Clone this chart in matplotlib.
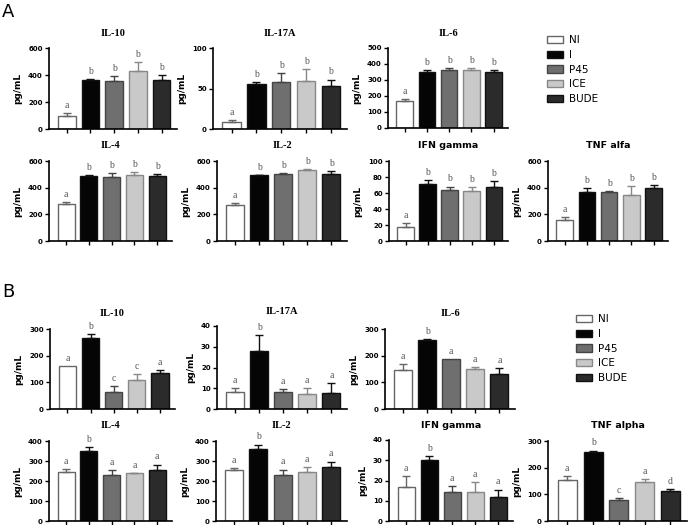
import matplotlib
matplotlib.use('Agg')
import matplotlib.pyplot as plt
from matplotlib.patches import Patch
import numpy as np

W, H = 689, 525

groups = ['NI', 'I', 'P45', 'ICE', 'BUDE']
colors = ['#ffffff', '#050505', '#6f6f6f', '#c9c9c9', '#2b2b2b']
edges = ['#666666', '#111111', '#444444', '#888888', '#111111']

# panel A
a_titles = ['IL-10', 'IL-17A', 'IL-6', 'IL-4', 'IL-2', 'IFN gamma', 'TNF alfa']
a_means = [[95, 362, 358, 430, 365],
           [9, 56, 58, 59, 53],
           [170, 352, 362, 362, 350],
           [280, 485, 480, 495, 485],
           [270, 492, 505, 530, 505],
           [17, 71, 64, 62, 67],
           [160, 365, 370, 345, 395]]
a_errs = [[20, 10, 35, 65, 32],
          [2, 2, 11, 15, 8],
          [12, 10, 10, 10, 12],
          [10, 10, 30, 20, 15],
          [12, 5, 5, 12, 20],
          [5, 5, 4, 5, 8],
          [20, 30, 5, 68, 25]]
a_letters = [['a', 'b', 'b', 'b', 'b']] * 7
a_ymax = [600, 100, 500, 600, 600, 100, 600]
a_ystep = [200, 50, 100, 200, 200, 20, 200]

# panel B
b_titles = ['IL-10', 'IL-17A', 'IL-6', 'IL-4', 'IL-2', 'IFN gamma', 'TNF alpha']
b_means = [[160, 268, 63, 110, 135],
           [8, 28, 8.3, 7, 7.8],
           [145, 258, 187, 150, 130],
           [245, 348, 228, 238, 257],
           [255, 362, 232, 245, 272],
           [17, 30, 14.2, 14.5, 11.7],
           [152, 260, 78, 148, 112]]
b_errs = [[0, 12, 22, 20, 12],
          [2, 7.5, 1.2, 3, 4.5],
          [22, 5, 0, 8, 22],
          [15, 22, 25, 3, 25],
          [8, 20, 25, 25, 25],
          [5, 2, 3, 4.8, 3.8],
          [15, 4, 8, 10, 7]]
b_letters = [['a', 'b', 'c', 'c', 'a'],
             ['a', 'b', 'a', 'a', 'a'],
             ['a', 'b', 'a', 'a', 'a'],
             ['a', 'b', 'a', 'a', 'a'],
             ['a', 'b', 'a', 'a', 'a'],
             ['a', 'b', 'a', 'a', 'a'],
             ['a', 'b', 'c', 'a', 'd']]
b_ymax = [300, 40, 300, 400, 400, 40, 300]
b_ystep = [100, 10, 100, 100, 100, 10, 100]

# axes boxes in pixels: x0, y_top, x1, y_bottom
a_boxes = [(49, 48, 177, 129), (213, 48, 347, 129), (388, 48, 508, 128),
           (49, 161, 172, 241), (217, 161, 347, 241), (389, 161, 508, 241),
           (548, 161, 668, 241)]
b_boxes = [(50, 329, 175, 409), (217, 326, 347, 409), (385, 329, 515, 409),
           (49, 441, 172, 521), (216, 441, 347, 521), (389, 440, 513, 521),
           (548, 441, 687, 521)]

fig = plt.figure(figsize=(W / 100, H / 100), dpi=100)


def draw_panel(box, title, means, errs, letters, ymax, ystep):
    x0, yt, x1, yb = box
    ax = fig.add_axes([x0 / W, 1 - yb / H, (x1 - x0) / W, (yb - yt) / H])
    x = np.arange(len(groups))
    ax.bar(x, means, width=0.74, color=colors, edgecolor=edges, linewidth=1.0, zorder=2)
    for i in range(len(groups)):
        if errs[i] > 0:
            ax.errorbar(x[i], means[i], yerr=[[0], [errs[i]]], fmt='none',
                        ecolor=edges[i], elinewidth=1.0, capsize=3, capthick=1.0, zorder=3)
        ax.text(x[i], means[i] + errs[i] + ymax * 0.04, letters[i], ha='center', va='bottom',
                fontsize=7, color='#555555', family='Liberation Serif')
    ax.set_xlim(-0.75, 4.65)
    ax.set_ylim(0, ymax)
    ax.set_yticks(np.arange(0, ymax + 1, ystep))
    ax.set_xticks(x)
    ax.set_xticklabels([])
    for s in ['top', 'right']:
        ax.spines[s].set_visible(False)
    for s in ['left', 'bottom']:
        ax.spines[s].set_linewidth(1.2)
    ax.tick_params(axis='both', direction='out', length=3, width=1.0, labelsize=5, pad=1.5)
    for lab in ax.get_yticklabels():
        lab.set_fontweight('bold')
    ax.set_ylabel('pg/mL', fontsize=6.5, fontweight='bold', labelpad=4)
    if title.startswith('IL'):
        ax.set_title(title, fontsize=7.5, fontweight='bold', family='Liberation Serif', pad=9)
    else:
        ax.set_title(title, fontsize=6.8, fontweight='bold', pad=9)
    return ax


for i in range(7):
    draw_panel(a_boxes[i], a_titles[i], a_means[i], a_errs[i], a_letters[i], a_ymax[i], a_ystep[i])
    draw_panel(b_boxes[i], b_titles[i], b_means[i], b_errs[i], b_letters[i], b_ymax[i], b_ystep[i])

handles = [Patch(facecolor=colors[i], edgecolor=edges[i], linewidth=1.0, label=groups[i])
           for i in range(len(groups))]
fig.legend(handles=handles, loc='upper left', bbox_to_anchor=(538 / W, 1 - 26 / H),
           frameon=False, fontsize=7.5, handlelength=1.5, handleheight=0.7,
           labelspacing=0.45, handletextpad=0.6)
fig.legend(handles=handles, loc='upper left', bbox_to_anchor=(567 / W, 1 - 305 / H),
           frameon=False, fontsize=7.5, handlelength=1.5, handleheight=0.7,
           labelspacing=0.45, handletextpad=0.6)

fig.text(2 / W, 1 - 3 / H, 'A', fontsize=13, va='top', ha='left')
fig.text(2 / W, 1 - 283 / H, 'B', fontsize=13, va='top', ha='left')

fig.savefig('out.png', dpi=100)
